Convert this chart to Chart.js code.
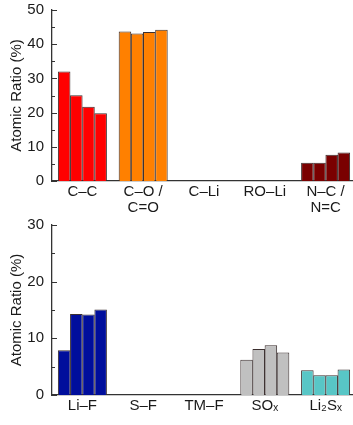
<!DOCTYPE html>
<html>
<head>
<meta charset="utf-8">
<script src="https://cdn.jsdelivr.net/npm/chart.js@4/dist/chart.umd.min.js"></script>
<style>
  html, body { margin: 0; padding: 0; background: #fff; overflow: hidden; width: 353px; height: 425px; }
  .wrap { position: absolute; left: 0; }
  canvas { display: block; }
</style>
</head>
<body>
<div class="wrap" style="top:0px"><canvas id="c1" width="356" height="215"></canvas></div>
<div class="wrap" style="top:215px"><canvas id="c2" width="356" height="210"></canvas></div>
<script>
// ---- Data ----
const topCategories = [["C\u2013C"], ["C\u2013O /", "C=O"], ["C\u2013Li"], ["RO\u2013Li"], ["N\u2013C /", "N=C"]];
const topSample1 = [32.0, 43.7, 0, 0, 5.3];
const topSample2 = [25.1, 43.1, 0, 0, 5.3];
const topSample3 = [21.7, 43.6, 0, 0, 7.7];
const topSample4 = [19.8, 44.2, 0, 0, 8.3];
const topColors = ["#ff0000", "#ff8000", "#7a0000", "#7a0000", "#7a0000"];

const bottomCategories = ["Li\u2013F", "S\u2013F", "TM\u2013F", "SO\u2093", "Li\u2082S\u2093"];
const bottomSample1 = [7.9, 0, 0, 6.2, 4.35];
const bottomSample2 = [14.3, 0, 0, 8.1, 3.5];
const bottomSample3 = [14.2, 0, 0, 8.8, 3.5];
const bottomSample4 = [15.1, 0, 0, 7.5, 4.5];
const bottomColors = ["#000e9c", "#888888", "#888888", "#c0c0c0", "#58c6c6"];

const topYMax = 50, topYStep = 10;
const bottomYMax = 30, bottomYStep = 10;
const minorStep = 5;

const FONT = "'Liberation Sans', Arial, sans-serif";
const AXIS = "#333333";
const TEXT = "#1a1a1a";

// inward tick marks plugin (uses the chart's own y scale)
const inwardTicks = {
  id: 'inwardTicks',
  afterDraw(chart) {
    const y = chart.scales.y, ctx = chart.ctx;
    const x0 = chart.chartArea.left;
    ctx.save();
    ctx.strokeStyle = AXIS;
    ctx.lineWidth = 1;
    for (let v = 0; v <= y.max + 1e-9; v += minorStep) {
      const py = Math.round(y.getPixelForValue(v)) + 0.5;
      const major = Math.abs(v % 10) < 1e-9;
      ctx.beginPath();
      ctx.moveTo(x0, py);
      ctx.lineTo(x0 + (major ? 5 : 3), py);
      ctx.stroke();
    }
    ctx.restore();
  }
};

function makeChart(id, labels, series, colors, yMax, yStep) {
  return new Chart(document.getElementById(id), {
    type: 'bar',
    data: {
      labels: labels,
      datasets: series.map(s => ({
        data: s,
        backgroundColor: colors,
        borderColor: '#3b2f2f',
        borderWidth: 1,
        borderSkipped: 'bottom',
        inflateAmount: 0,
        categoryPercentage: 0.8,
        barPercentage: 1.03
      }))
    },
    options: {
      responsive: false,
      animation: false,
      devicePixelRatio: 1,
      layout: { padding: { top: 10, right: 0, left: 0, bottom: 0 } },
      plugins: { legend: { display: false }, tooltip: { enabled: false } },
      scales: {
        x: {
          grid: { display: false, drawTicks: false },
          border: { display: true, color: AXIS, width: 1.3 },
          ticks: { padding: 3, color: TEXT, font: { family: FONT, size: 15, lineHeight: 1.05 }, maxRotation: 0, autoSkip: false },
          afterFit(s) { s.height = id === 'c1' ? 34 : 30; s.paddingLeft = 0; s.paddingRight = 0; }
        },
        y: {
          min: 0, max: yMax,
          grid: { display: false, drawTicks: false },
          border: { display: true, color: AXIS, width: 1.3 },
          ticks: { stepSize: yStep, padding: 8, color: TEXT, font: { family: FONT, size: 15 } },
          title: { display: true, text: 'Atomic Ratio (%)', color: TEXT, font: { family: FONT, size: 15 }, padding: { top: 8, bottom: 0 } },
          afterFit(s) { s.width = 52; s.paddingTop = 0; s.paddingBottom = 0; }
        }
      }
    },
    plugins: [inwardTicks]
  });
}

makeChart('c1', topCategories, [topSample1, topSample2, topSample3, topSample4], topColors, topYMax, topYStep);
makeChart('c2', bottomCategories, [bottomSample1, bottomSample2, bottomSample3, bottomSample4], bottomColors, bottomYMax, bottomYStep);
</script>
</body>
</html>
